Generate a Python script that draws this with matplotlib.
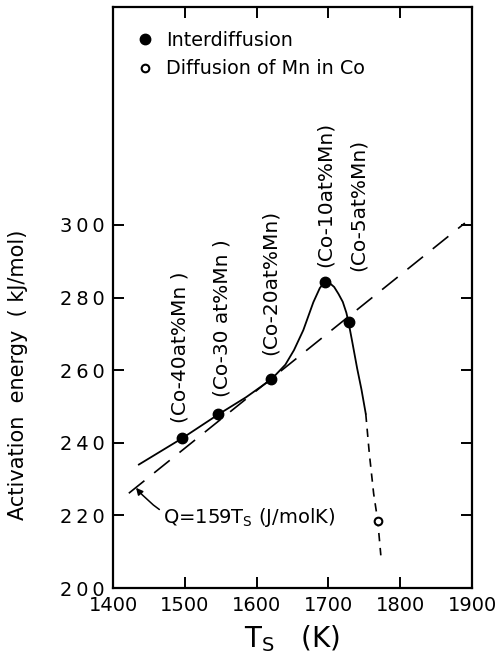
import matplotlib
matplotlib.use("Agg")
import matplotlib.pyplot as plt

# Interdiffusion points (filled) and Mn-in-Co point (open)
inter_T = [1496, 1546.6, 1620.7, 1694.7, 1728]
inter_Q = [241.2, 247.8, 257.5, 284.3, 273.2]
inter_labels = ["(Co-40at%Mn )", "(Co-30 at%Mn )", "(Co-20at%Mn)",
                "(Co-10at%Mn)", "(Co-5at%Mn)"]
label_T = [1493, 1552, 1619, 1696, 1741]
label_Q = [245.5, 252.7, 264.3, 288.3, 287.2]

mn_T = [1768.7]
mn_Q = [218.5]

# hand-drawn guide curve
guide_T = [1436, 1496, 1546.6, 1585, 1620.7, 1640, 1652, 1665, 1679, 1688,
           1694.7, 1701, 1708, 1714, 1720, 1725, 1728, 1733, 1740, 1746, 1752]
guide_Q = [234, 241.2, 247.8, 252.5, 257.5, 261.5, 265.5, 271, 278.7, 282.6,
           284.3, 284.1, 282.9, 281, 278.8, 275.8, 273.2, 268, 260.5, 254.7, 248]
tail_T = [1752, 1757, 1763, 1768.7, 1773]
tail_Q = [248, 237, 226, 218.5, 209]

# Q = 159 Ts line
line_T = [1422, 1890]
line_Q = [226.1, 300.5]

xticks = [1400, 1500, 1600, 1700, 1800, 1900]
yticks = [200, 220, 240, 260, 280, 300]

plt.rcParams['font.family'] = 'DejaVu Sans'
plt.rcParams['mathtext.default'] = 'regular'

fig = plt.figure(figsize=(5.03, 6.63), dpi=100)
ax = fig.add_axes([0.2247, 0.1131, 0.7137, 0.8763])

ax.plot(line_T, line_Q, color='black', lw=1.2, dashes=(12, 7.5))
ax.plot(guide_T, guide_Q, color='black', lw=1.3, solid_joinstyle='round')
ax.plot(tail_T, tail_Q, color='black', lw=1.2, dashes=(5, 4))

h1, = ax.plot(inter_T, inter_Q, 'o', color='black', ms=7.5, ls='none',
              label='Interdiffusion', zorder=5)
h2, = ax.plot(mn_T, mn_Q, 'o', mfc='white', mec='black', mew=1.5, ms=5.5,
              ls='none', label='Diffusion of Mn in Co', zorder=5)

for t, q, s in zip(label_T, label_Q, inter_labels):
    ax.text(t, q, s, rotation=90, ha='center', va='bottom', fontsize=14.5)

ax.annotate('Q=159T$_S$ (J/molK)', xy=(1432, 227.6), xytext=(1470, 219.3),
            fontsize=14, ha='left', va='center',
            arrowprops=dict(arrowstyle='-|>', color='black', lw=1.1,
                            mutation_scale=10, shrinkA=1, shrinkB=0,
                            connectionstyle='arc3,rad=-0.35'))

leg = ax.legend(handles=[h1, h2], loc='upper left', bbox_to_anchor=(0.063, 0.959),
                frameon=False, fontsize=13.8, handlelength=1.0, handletextpad=0.6,
                labelspacing=0.5, borderpad=0, borderaxespad=0)

ax.set_xlim(1400, 1900)
ax.set_ylim(200, 360)
ax.set_xticks(xticks)
ax.set_xticklabels([str(v) for v in xticks], fontsize=14)
ax.set_yticks(yticks)
ax.set_yticklabels(['\u2009'.join(str(v)) for v in yticks], fontsize=14)
ax.tick_params(direction='in', length=8, width=1.4, top=True, right=True, pad=6)
for sp in ax.spines.values():
    sp.set_linewidth(1.6)

ax.set_xlabel('T$_S$   (K)', fontsize=20, labelpad=6)
ax.set_ylabel('Activation  energy  ( kJ/mol)', fontsize=15)
ax.yaxis.set_label_coords(-0.237, 0.367)

fig.savefig('out.png', dpi=100)
